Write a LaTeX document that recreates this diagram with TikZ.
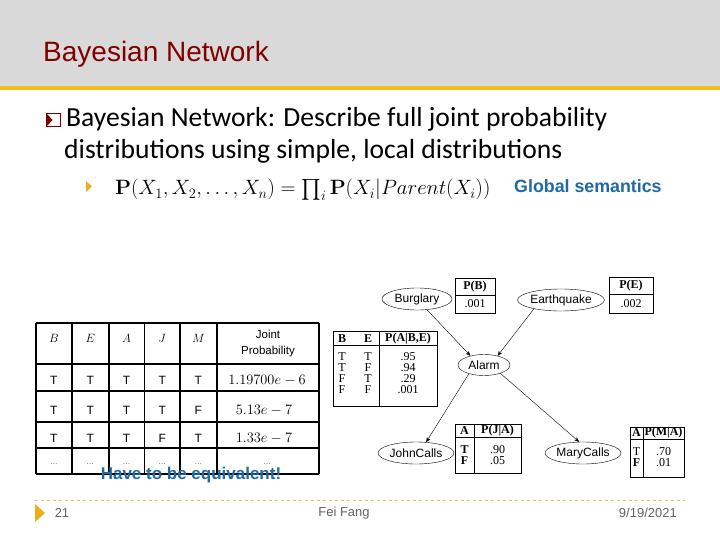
\documentclass[tikz,border=0pt]{standalone}
\usepackage[no-math]{fontspec}
\usepackage{amsmath}
\setmainfont{Liberation Sans}
\newfontfamily\gillfont{Carlito}
\newfontfamily\timesfont{Liberation Serif}
\usetikzlibrary{shapes.geometric, arrows.meta}

\definecolor{headgray}{RGB}{217,217,217}
\definecolor{bandyellow}{RGB}{242,192,30}
\definecolor{titlered}{RGB}{128,0,0}
\definecolor{noteblue}{RGB}{31,105,165}
\definecolor{footgray}{RGB}{100,100,100}
\definecolor{bulletorange}{RGB}{235,175,30}
\definecolor{footyellow}{RGB}{230,200,90}

\tikzset{
  var/.style={ellipse, draw, thin, inner sep=0pt, minimum height=22pt, font=\fontsize{12}{14}\selectfont},
  cpt/.style={inner sep=0pt, font=\timesfont\fontsize{12}{13}\selectfont},
  cpthead/.style={inner sep=0pt, font=\timesfont\bfseries\fontsize{12}{13}\selectfont},
  cell/.style={inner sep=0pt, font=\fontsize{12}{14}\selectfont},
  valcell/.style={inner sep=0pt, font=\fontsize{15}{17}\selectfont},
  dotcell/.style={inner sep=0pt, text=gray, font=\fontsize{9}{10}\selectfont},
  grid/.style={line width=1.6pt},
  note/.style={inner sep=0pt, text=noteblue, font=\bfseries\fontsize{17}{20}\selectfont},
  foot/.style={inner sep=0pt, text=footgray, font=\fontsize{13}{15}\selectfont},
  link/.style={-{Stealth[length=5pt,width=4pt]}, thin}
}

\begin{document}
\begin{tikzpicture}[x=1pt, y=-1pt]

    % --- Page and header band ---
    \useasboundingbox (0,0) rectangle (720,540);
    \fill[white] (0,0) rectangle (720,540);
    \fill[headgray] (0,0) rectangle (720,86);
    \fill[bandyellow] (0,86) rectangle (720,90);
    \node[anchor=base west, inner sep=0pt, text=titlered, font=\fontsize{28}{32}\selectfont] (title) at (43,62) {Bayesian Network};

    % --- Bullet text ---
    \draw[titlered, line width=1.2pt] (46.5,113.5) rectangle (60.5,126.5);
    \fill[titlered] (47,114) -- (52.5,120) -- (47,126) -- cycle;
    \node[anchor=base west, inner sep=0pt, font=\gillfont\fontsize{27.6}{32}\selectfont] (line1) at (66,127) {Bayesian Network: Describe full joint probability};
    \node[anchor=base west, inner sep=0pt, font=\gillfont\fontsize{27.6}{32}\selectfont] (line2) at (64,159) {distributions using simple, local distributions};

    \fill[bulletorange] (86,181) -- (92,186.5) -- (86,192) -- cycle;
    \node[anchor=base west, inner sep=0pt, font=\fontsize{20}{24}\selectfont] (formula) at (115,195)
        {$\mathbf{P}(X_1, X_2, \ldots, X_n) = \prod_i \mathbf{P}(X_i | Parent(X_i))$};
    \node[note, anchor=base west, font=\bfseries\fontsize{17.8}{20}\selectfont] (global) at (514,193) {Global semantics};

    % --- Joint probability table ---
    \foreach \x in {36,71.7,108.7,144.3,180,216.7,319}
        \draw[grid] (\x,323) -- (\x,474);
    \foreach \y in {323,364,391,421.7,447.7,474}
        \draw[grid] (36,\y) -- (319,\y);

    \foreach \x/\h/\a/\b/\c [count=\k] in {53.9/B/T/T/T, 90.2/E/T/T/T, 126.5/A/T/T/T, 162.2/J/T/T/F, 198.4/M/T/F/T} {
        \node[cell, font=\fontsize{12}{14}\selectfont] (head-\k) at (\x,338) {$\h$};
        \node[cell] (rowa-\k) at (\x,380) {\a};
        \node[cell] (rowb-\k) at (\x,410) {\b};
        \node[cell] (rowc-\k) at (\x,438) {\c};
        \node[dotcell] (rowd-\k) at (\x,464) {...};
    }
    \node[cell, align=center, font=\fontsize{11.5}{16}\selectfont] (head-joint) at (268,344) {Joint\\Probability};
    \node[valcell] (joint-a) at (267,380) {$1.19700e-6$};
    \node[valcell] (joint-b) at (264,410) {$5.13e-7$};
    \node[valcell] (joint-c) at (264,438) {$1.33e-7$};
    \node[dotcell] (joint-d) at (267,464) {...};

    \node[note] (equiv) at (191,475) {Have to be equivalent!};

    % --- Network nodes ---
    \node[var, minimum width=70pt] (burglary) at (417,299) {Burglary};
    \node[var, minimum width=84pt] (earthquake) at (561,300) {Earthquake};
    \node[var, minimum width=52pt, minimum height=21pt] (alarm) at (484,365) {Alarm};
    \node[var, minimum width=76pt] (john) at (416,453) {JohnCalls};
    \node[var, minimum width=76pt] (mary) at (583,453) {MaryCalls};

    \draw[link] (burglary.-47) -- (alarm.146);
    \draw[link] (earthquake.198) -- (alarm.34);
    \draw[link] (alarm.210) -- (john.47);
    \draw[link] (alarm.333) -- (mary.109);

    % --- P(B) and P(E) ---
    \draw[thin] (455,278) rectangle (495,313);
    \draw[line width=1pt] (455,295) -- (495,295);
    \node[cpthead] (pb-head) at (475,286.5) {P(B)};
    \node[cpt] (pb-val) at (475,304) {.001};

    \draw[thin] (609,277) rectangle (653,313);
    \draw[line width=1pt] (609,294) -- (653,294);
    \node[cpthead] (pe-head) at (631,285.5) {P(E)};
    \node[cpt] (pe-val) at (631,304) {.002};

    % --- P(A|B,E) ---
    \draw[thin] (333,331) rectangle (437,406);
    \draw[thin] (333,345) -- (437,345);
    \draw[thin] (379,331) -- (379,406);
    \node[cpthead] (pa-b) at (342,338.5) {B};
    \node[cpthead] (pa-e) at (368,338.5) {E};
    \node[cpthead] (pa-p) at (408,338.5) {P(A|B,E)};
    \foreach \b/\e/\p/\y [count=\k] in {T/T/.95/357, T/F/.94/368, F/T/.29/379, F/F/.001/390} {
        \node[cpt] (pa-b\k) at (342,\y) {\b};
        \node[cpt] (pa-e\k) at (368,\y) {\e};
        \node[cpt] (pa-p\k) at (408,\y) {\p};
    }

    % --- P(J|A) ---
    \draw[thin] (455,424) rectangle (521,473);
    \draw[thin] (455,437) -- (521,437);
    \draw[thin] (474,424) -- (474,473);
    \node[cpthead] (pj-a) at (464.5,430.5) {A};
    \node[cpthead] (pj-p) at (497.5,430.5) {P(J|A)};
    \node[cpthead] (pj-t) at (464.5,450) {T};
    \node[cpt] (pj-tv) at (497.5,450) {.90};
    \node[cpthead] (pj-f) at (464.5,461) {F};
    \node[cpt] (pj-fv) at (497.5,461) {.05};

    % --- P(M|A) ---
    \draw[thin] (630,427) rectangle (684,477);
    \draw[thin] (630,439) -- (684,439);
    \draw[thin] (643,427) -- (643,477);
    \node[cpthead] (pm-a) at (636.5,433) {A};
    \node[cpthead] (pm-p) at (663.5,433) {P(M|A)};
    \node[cpt] (pm-t) at (636.5,452) {T};
    \node[cpt] (pm-tv) at (663.5,452) {.70};
    \node[cpthead] (pm-f) at (636.5,463) {F};
    \node[cpt] (pm-fv) at (663.5,463) {.01};

    % --- Footer ---
    \draw[footyellow, dashed, thin] (35,500) -- (685,500);
    \fill[bulletorange] (35,504) -- (45,513) -- (35,522) -- cycle;
    \node[foot] (page) at (62,513) {21};
    \node[foot] (author) at (344,513) {Fei Fang};
    \node[foot, anchor=east] (date) at (677,513) {9/19/2021};

\end{tikzpicture}
\end{document}
